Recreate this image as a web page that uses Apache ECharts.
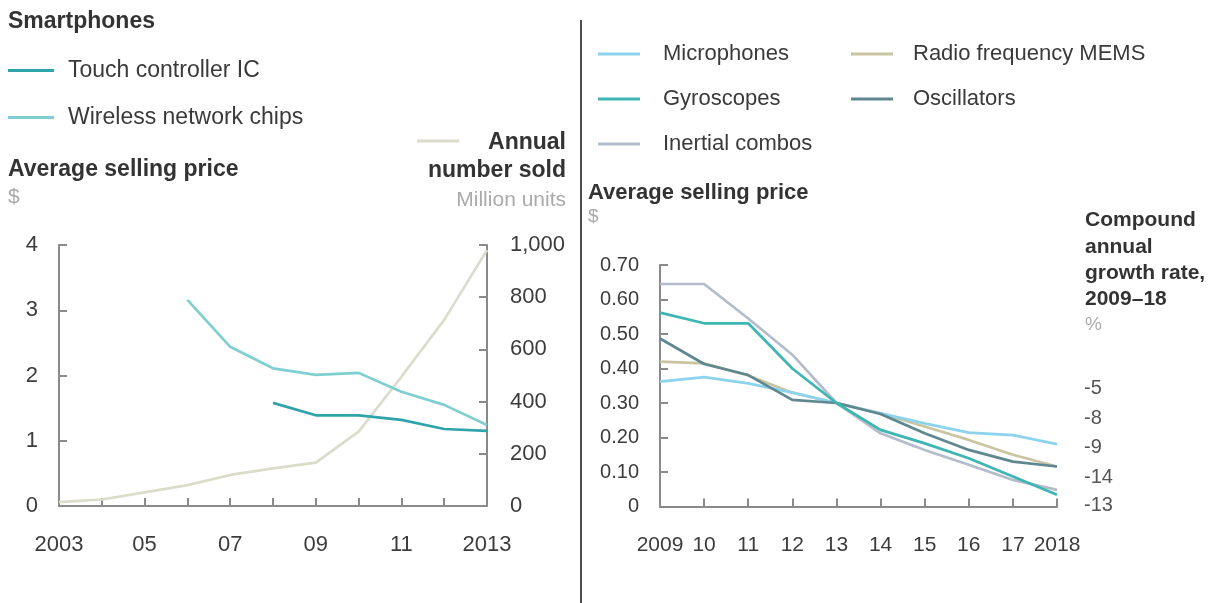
<!DOCTYPE html>
<html>
<head>
<meta charset="utf-8">
<script src="https://cdn.jsdelivr.net/npm/echarts@6/dist/echarts.min.js"></script>
<style>
html,body{margin:0;padding:0;background:#fff;}
#chart{width:1217px;height:603px;}
</style>
</head>
<body>
<div id="chart"></div>
<script>
// ---------- Data: left panel (smartphones) ----------
const leftYears = ['2003','2004','2005','2006','2007','2008','2009','2010','2011','2012','2013'];
const leftXLabels = ['2003','','05','','07','','09','','11','','2013'];
const touchControllerIC = [null,null,null,null,null,1.58,1.39,1.39,1.32,1.18,1.15];
const wirelessChips = [null,null,null,3.16,2.44,2.11,2.01,2.04,1.75,1.55,1.24];
const annualSold = [15,25,52,80,119,144,166,285,495,713,981];

// ---------- Data: right panel (MEMS) ----------
const rightYears = ['2009','2010','2011','2012','2013','2014','2015','2016','2017','2018'];
const rightXLabels = ['2009','10','11','12','13','14','15','16','17','2018'];
const microphones = [0.362,0.375,0.357,0.33,0.30,0.27,0.241,0.214,0.207,0.181];
const gyroscopes = [0.562,0.531,0.531,0.40,0.30,0.222,0.183,0.14,0.087,0.034];
const inertialCombos = [0.645,0.645,0.545,0.44,0.30,0.212,0.164,0.121,0.077,0.048];
const rfMems = [0.42,0.415,0.38,0.33,0.30,0.27,0.232,0.193,0.15,0.116];
const oscillators = [0.487,0.413,0.381,0.309,0.30,0.268,0.212,0.164,0.13,0.116];
const cagrLabels = ['-5','-8','-9','-14','-13'];

const C = {
  touch:'#2fa5ab', wireless:'#7fcfd0', annual:'#dcdccb',
  mic:'#8cd4ee', gyro:'#3db6b3', inertial:'#b4bccb', rf:'#c9c4a2', osc:'#5f8790'
};
const FONT = '"Liberation Sans", Arial, sans-serif';
const axisCol = '#8a8a8a';
const labCol = '#3c3c3c';

function lineS(name, data, color, xi, yi, z){
  return {name, type:'line', data, xAxisIndex:xi, yAxisIndex:yi, symbol:'none', smooth:false,
    connectNulls:false, lineStyle:{color, width:2.7}, itemStyle:{color}, z:z||2, silent:true};
}
function txt(text, x, y, size, opts){
  opts = opts || {};
  return {type:'text', x, y, silent:true, style:{text, x:0, y:0, fill: opts.color || '#333',
    font: (opts.bold?'bold ':'') + size + 'px ' + FONT, textAlign: opts.align || 'left', textVerticalAlign:'middle'}};
}

const chart = echarts.init(document.getElementById('chart'), null, {renderer:'canvas'});
const axisLineStyle = {lineStyle:{color:axisCol, width:2}};
const tickStyle = {show:true, inside:true, length:8, lineStyle:{color:axisCol, width:2}};

const option = {
  animation:false,
  backgroundColor:'#fff',
  textStyle:{fontFamily:FONT},
  grid:[
    {left:59, right:1217-487, top:245, bottom:603-506, containLabel:false},
    {left:660, right:1217-1057, top:265, bottom:603-506.5, containLabel:false}
  ],
  xAxis:[
    {type:'category', gridIndex:0, data:leftYears, boundaryGap:false,
      axisLine:axisLineStyle, axisTick:Object.assign({alignWithLabel:true, interval:0}, tickStyle),
      axisLabel:{interval:0, margin:28, color:labCol, fontSize:22, fontFamily:FONT,
        formatter:(v,i)=>leftXLabels[i]}, splitLine:{show:false}},
    {type:'category', gridIndex:1, data:rightYears, boundaryGap:false,
      axisLine:axisLineStyle, axisTick:Object.assign({interval:0}, tickStyle),
      axisLabel:{interval:0, margin:28, color:labCol, fontSize:21, fontFamily:FONT,
        formatter:(v,i)=>rightXLabels[i]}, splitLine:{show:false}}
  ],
  yAxis:[
    {type:'value', gridIndex:0, min:0, max:4, interval:1, position:'left',
      axisLine:Object.assign({show:true}, axisLineStyle), axisTick:tickStyle,
      axisLabel:{margin:21, color:labCol, fontSize:22, fontFamily:FONT}, splitLine:{show:false}},
    {type:'value', gridIndex:0, min:0, max:1000, interval:200, position:'right',
      axisLine:Object.assign({show:true}, axisLineStyle), axisTick:tickStyle,
      axisLabel:{margin:23, color:labCol, fontSize:22, fontFamily:FONT,
        formatter:v=>v.toLocaleString('en-US')}, splitLine:{show:false}},
    {type:'value', gridIndex:1, min:0, max:0.7, interval:0.1, position:'left',
      axisLine:Object.assign({show:true}, axisLineStyle), axisTick:tickStyle,
      axisLabel:{margin:21, color:labCol, fontSize:20, fontFamily:FONT,
        formatter:v=> v===0 ? '0' : v.toFixed(2)}, splitLine:{show:false}}
  ],
  legend:[
    {data:['Touch controller IC','Wireless network chips'], orient:'vertical', left:3, top:54,
      itemWidth:46, itemHeight:3, itemGap:24, icon:'rect', selectedMode:false,
      textStyle:{fontSize:23, color:'#3a3a3a', fontFamily:FONT, padding:[0,0,0,9]}},
    {data:['Microphones','Gyroscopes','Inertial combos'], orient:'vertical', left:593, top:38,
      itemWidth:42, itemHeight:3, itemGap:23, icon:'rect', selectedMode:false,
      textStyle:{fontSize:22, color:'#3a3a3a', fontFamily:FONT, padding:[0,0,0,18]}},
    {data:['Radio frequency MEMS','Oscillators'], orient:'vertical', left:846, top:38,
      itemWidth:42, itemHeight:3, itemGap:23, icon:'rect', selectedMode:false,
      textStyle:{fontSize:22, color:'#3a3a3a', fontFamily:FONT, padding:[0,0,0,15]}}
  ],
  series:[
    lineS('Annual number sold', annualSold, C.annual, 0, 1, 1),
    lineS('Wireless network chips', wirelessChips, C.wireless, 0, 0, 2),
    lineS('Touch controller IC', touchControllerIC, C.touch, 0, 0, 3),
    lineS('Radio frequency MEMS', rfMems, C.rf, 1, 2, 2),
    lineS('Microphones', microphones, C.mic, 1, 2, 3),
    lineS('Oscillators', oscillators, C.osc, 1, 2, 4),
    lineS('Inertial combos', inertialCombos, C.inertial, 1, 2, 5),
    lineS('Gyroscopes', gyroscopes, C.gyro, 1, 2, 6)
  ],
  graphic:[]
};

const g = [];
// divider
g.push({type:'line', silent:true, shape:{x1:581, y1:20, x2:581, y2:603}, style:{stroke:'#111', lineWidth:1.5}});
// left panel text
g.push(txt('Smartphones', 8, 22, 23, {bold:true, color:'#333'}));
g.push(txt('Average selling price', 8, 170, 23, {bold:true, color:'#333'}));
g.push(txt('$', 8, 197, 21, {color:'#aaa'}));
g.push({type:'line', silent:true, shape:{x1:417, y1:141, x2:459, y2:141}, style:{stroke:C.annual, lineWidth:3}});
g.push(txt('Annual', 566, 143, 23, {bold:true, align:'right'}));
g.push(txt('number sold', 566, 171, 23, {bold:true, align:'right'}));
g.push(txt('Million units', 566, 200, 21, {color:'#aaa', align:'right'}));
// right panel text
g.push(txt('Average selling price', 588, 193, 22, {bold:true, color:'#333'}));
g.push(txt('$', 588, 217, 19, {color:'#aaa'}));
const cagrTitle = ['Compound','annual','growth rate,','2009\u201318'];
const cagrTitleY = [220,247,273,299];
cagrTitle.forEach((t,i)=>g.push(txt(t, 1085, cagrTitleY[i], 21, {bold:true, color:'#333'})));
g.push(txt('%', 1085, 325, 19, {color:'#aaa'}));
const cagrY = [388,418,447,477,505];
cagrLabels.forEach((t,i)=>g.push(txt(t, 1084, cagrY[i], 20, {color:'#555'})));
option.graphic = g;

chart.setOption(option);
</script>
</body>
</html>
